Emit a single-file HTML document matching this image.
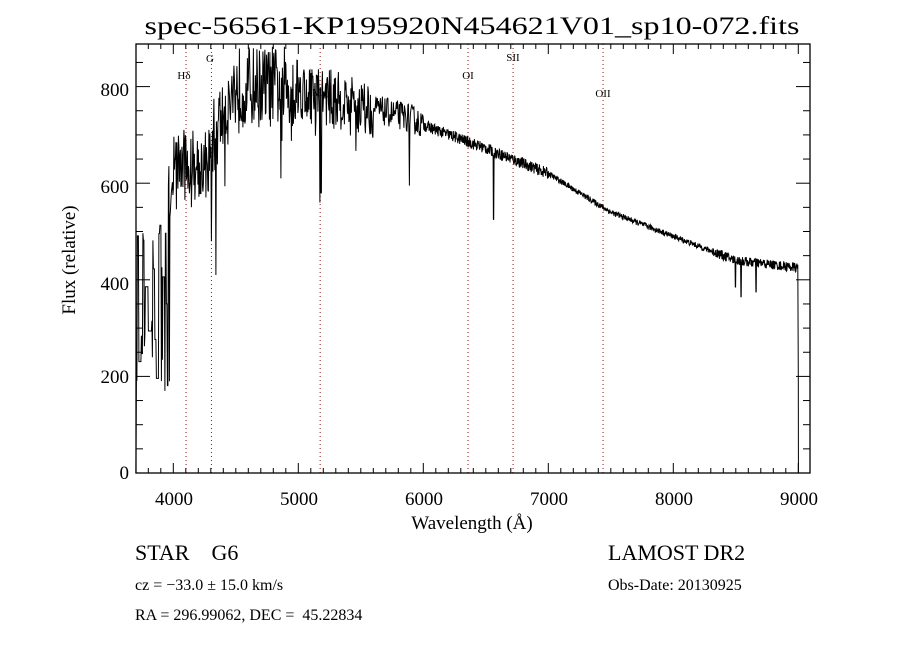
<!DOCTYPE html>
<html><head><meta charset="utf-8"><style>
html,body{margin:0;padding:0;background:#fff;}
svg{display:block;}
text{font-family:"Liberation Serif",serif;fill:#000;white-space:pre;}
</style></head><body>
<svg id="s" width="900" height="650" viewBox="0 0 900 650" xmlns="http://www.w3.org/2000/svg" xml:space="preserve">
<rect width="900" height="650" fill="#fff"/>
<text x="472" y="34" font-size="25" text-anchor="middle" textLength="655" lengthAdjust="spacingAndGlyphs">spec-56561-KP195920N454621V01_sp10-072.fits</text>
<g id="vl" stroke="#8b1a1a" stroke-width="1" stroke-dasharray="1,3"></g>
<g font-size="11">
<text x="184" y="79" text-anchor="middle">Hδ</text>
<text x="210" y="62" text-anchor="middle">G</text>
<text x="320" y="96" text-anchor="middle">Mg</text>
<text x="468" y="79" text-anchor="middle">OI</text>
<text x="513" y="61" text-anchor="middle">SII</text>
<text x="603" y="97" text-anchor="middle">OII</text>
</g>
<path id="sp" fill="none" stroke="#000" stroke-width="1"/>
<rect x="136" y="44" width="674" height="429" fill="none" stroke="#000" stroke-width="1.3"/>
<g id="tk" stroke="#000" stroke-width="1"></g>
<g font-size="19" text-anchor="middle">
<text x="174" y="505">4000</text><text x="299" y="505">5000</text><text x="424" y="505">6000</text>
<text x="549" y="505">7000</text><text x="674" y="505">8000</text><text x="799" y="505">9000</text>
</g>
<g font-size="19" text-anchor="end">
<text x="129" y="479">0</text><text x="129" y="383">200</text><text x="129" y="290">400</text>
<text x="129" y="193">600</text><text x="129" y="96">800</text>
</g>
<text x="472" y="529" font-size="19" text-anchor="middle">Wavelength (Å)</text>
<text transform="translate(75,260) rotate(-90)" font-size="19" text-anchor="middle">Flux (relative)</text>
<text x="135" y="560" font-size="22">STAR    G6</text>
<text x="608" y="560" font-size="22">LAMOST DR2</text>
<text x="135" y="590" font-size="16">cz = −33.0 ± 15.0 km/s</text>
<text x="608" y="590" font-size="16">Obs-Date: 20130925</text>
<text x="135" y="620" font-size="16">RA = 296.99062, DEC =  45.22834</text>
</svg>
<script>
var X=function(w){return 173.3+(w-4000)*0.125;};
var Y=function(f){return 473-f*0.483;};
var tk=document.getElementById('tk'),h='';
for(var w=3800;w<=9000;w+=100){var x=X(w),L=(w%1000==0)?10:5;h+='<line x1="'+x+'" y1="473" x2="'+x+'" y2="'+(473-L)+'"/><line x1="'+x+'" y1="44" x2="'+x+'" y2="'+(44+L)+'"/>';}
for(var f=50;f<=850;f+=50){var y=Y(f),L=(f%200==0)?14:7;h+='<line x1="136" y1="'+y+'" x2="'+(136+L)+'" y2="'+y+'"/><line x1="810" y1="'+y+'" x2="'+(810-L)+'" y2="'+y+'"/>';}
tk.innerHTML=h;
var vl=document.getElementById('vl'),v='';
[4102,4305,5175,6358,6718,7438].forEach(function(w){var x=X(w);v+='<line x1="'+x+'" y1="44" x2="'+x+'" y2="473"/>';});
vl.innerHTML=v;
var seed=12345;function r(){seed=(seed*16807)%2147483647;return seed/2147483647;}
var pts=[[3960,560],[4000,640],[4280,640],[4330,700],[4500,800],[4900,800],[5500,760],[5900,735],[6000,720],[6500,672],[7000,620],[7500,540],[8000,490],[8500,440],[9000,425]];
function cont(w){if(w<pts[0][0])return 300;for(var i=0;i<pts.length-1;i++){if(w<=pts[i+1][0]){var t=(w-pts[i][0])/(pts[i+1][0]-pts[i][0]);return pts[i][1]+t*(pts[i+1][1]-pts[i][1]);}}return 425;}
var lines=[[4340,410],[4861,610],[5172,560],[5183,580],[5890,595],[6563,525],[8498,385],[8542,365],[8662,375],[3933,170],[3968,190],[4305,480]];
var d='M136,'+Y(0);
var prev=0;
for(var w=3701;w<=8998;){
 var c=cont(w),amp;
 if(w<3960){amp=0;c=(r()<0.5)?prev:180+r()*340;prev=c;}
 else if(w<4300)amp=150;else if(w<5000)amp=170;else if(w<5600)amp=120;else if(w<6000)amp=60;else if(w<7000)amp=24;else if(w<8300)amp=12;else amp=20;
 var f=c+(r()-0.5)*amp;
 if(w>=3960&&w<5600&&r()<0.04)f-=r()*150;
 lines.forEach(function(l){if(Math.abs(w-l[0])<3)f=Math.min(f,l[1]);});
 d+=' L'+X(w).toFixed(1)+','+Y(f).toFixed(1);
 w+=(w<6000)?4:2.5;
}
d+=' L'+X(9000)+','+Y(200)+' L'+X(9001)+','+Y(0);
document.getElementById('sp').setAttribute('d',d);
</script>
</body></html>
